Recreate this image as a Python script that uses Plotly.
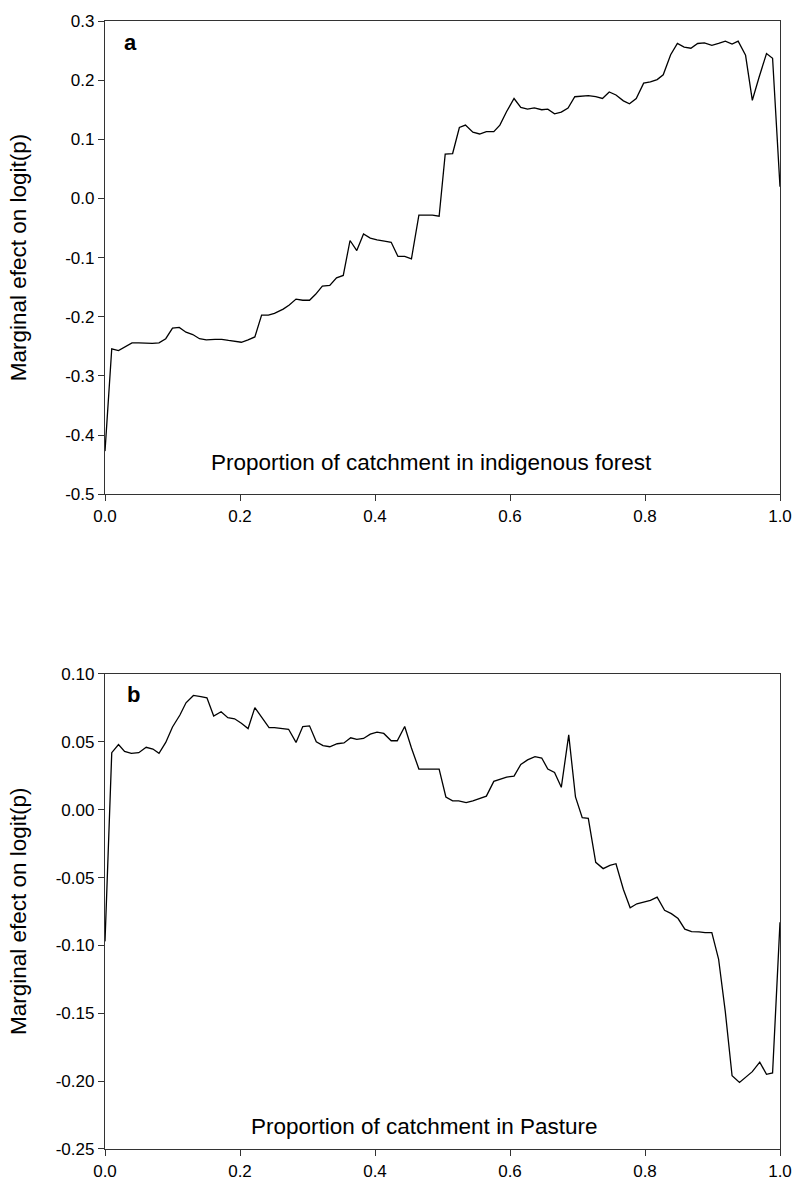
import plotly.graph_objects as go

# Panel a: marginal effect of indigenous forest proportion
forest_x = [0.000, 0.010, 0.020, 0.030, 0.040, 0.050, 0.060, 0.070, 0.080, 0.090,
            0.100, 0.110, 0.120, 0.130, 0.140, 0.150, 0.163, 0.173, 0.183, 0.193,
            0.202, 0.212, 0.222, 0.232, 0.242, 0.251, 0.264, 0.273, 0.283, 0.293,
            0.303, 0.312, 0.322, 0.333, 0.343, 0.353, 0.363, 0.373, 0.383, 0.393,
            0.403, 0.414, 0.424, 0.434, 0.444, 0.454, 0.465, 0.475, 0.485, 0.495,
            0.504, 0.515, 0.525, 0.534, 0.545, 0.555, 0.565, 0.576, 0.585, 0.595,
            0.606, 0.616, 0.626, 0.636, 0.647, 0.656, 0.666, 0.676, 0.686, 0.696,
            0.706, 0.716, 0.727, 0.737, 0.747, 0.757, 0.768, 0.777, 0.787, 0.798,
            0.808, 0.818, 0.827, 0.838, 0.848, 0.858, 0.868, 0.878, 0.888, 0.899,
            0.909, 0.919, 0.929, 0.938, 0.949, 0.959, 0.969, 0.980, 0.989, 1.000]
forest_y = [-0.427, -0.254, -0.257, -0.250, -0.244, -0.244, -0.245, -0.245, -0.244, -0.237,
            -0.219, -0.218, -0.226, -0.230, -0.237, -0.239, -0.238, -0.238, -0.240, -0.242,
            -0.243, -0.239, -0.234, -0.197, -0.197, -0.194, -0.187, -0.180, -0.170, -0.172,
            -0.172, -0.162, -0.148, -0.147, -0.134, -0.130, -0.071, -0.088, -0.060, -0.067,
            -0.070, -0.072, -0.074, -0.098, -0.098, -0.102, -0.028, -0.028, -0.028, -0.030,
            0.075, 0.076, 0.120, 0.124, 0.112, 0.109, 0.113, 0.113, 0.124, 0.147,
            0.169, 0.154, 0.151, 0.153, 0.150, 0.151, 0.143, 0.146, 0.153, 0.172,
            0.173, 0.174, 0.172, 0.169, 0.180, 0.175, 0.165, 0.160, 0.169, 0.195,
            0.197, 0.201, 0.209, 0.243, 0.262, 0.256, 0.254, 0.262, 0.263, 0.259,
            0.262, 0.266, 0.261, 0.266, 0.242, 0.166, 0.205, 0.245, 0.237, 0.020]

# Panel b: marginal effect of pasture proportion
pasture_x = [0.000, 0.010, 0.020, 0.029, 0.039, 0.050, 0.061, 0.071, 0.080, 0.090,
             0.100, 0.111, 0.120, 0.131, 0.142, 0.151, 0.161, 0.172, 0.182, 0.192,
             0.202, 0.212, 0.222, 0.232, 0.243, 0.251, 0.262, 0.272, 0.283, 0.293,
             0.303, 0.313, 0.323, 0.333, 0.344, 0.354, 0.364, 0.373, 0.383, 0.393,
             0.403, 0.413, 0.424, 0.433, 0.444, 0.454, 0.465, 0.475, 0.485, 0.495,
             0.505, 0.515, 0.524, 0.535, 0.545, 0.555, 0.565, 0.576, 0.586, 0.595,
             0.606, 0.616, 0.626, 0.637, 0.647, 0.656, 0.666, 0.676, 0.687, 0.697,
             0.707, 0.716, 0.727, 0.738, 0.748, 0.757, 0.768, 0.778, 0.788, 0.798,
             0.808, 0.818, 0.829, 0.839, 0.849, 0.859, 0.869, 0.880, 0.889, 0.899,
             0.909, 0.919, 0.929, 0.940, 0.949, 0.959, 0.970, 0.980, 0.989, 1.000]
pasture_y = [-0.097, 0.042, 0.048, 0.043, 0.0415, 0.042, 0.046, 0.0447, 0.0415, 0.0496,
             0.061, 0.0698, 0.0788, 0.0842, 0.0834, 0.0825, 0.069, 0.0722, 0.0678, 0.067,
             0.0637, 0.0598, 0.0752, 0.0678, 0.0605, 0.0605, 0.060, 0.0593, 0.0496, 0.0613,
             0.0618, 0.050, 0.0472, 0.0464, 0.0486, 0.0492, 0.053, 0.0518, 0.0525, 0.0557,
             0.0571, 0.0562, 0.0508, 0.0508, 0.0613, 0.0455, 0.030, 0.030, 0.0299, 0.0299,
             0.0094, 0.0065, 0.0065, 0.0053, 0.0065, 0.0082, 0.010, 0.0209, 0.0228, 0.024,
             0.0247, 0.0333, 0.0367, 0.0391, 0.0381, 0.030, 0.0275, 0.0165, 0.0551, 0.0094,
             -0.0059, -0.0064, -0.0388, -0.0434, -0.041, -0.0398, -0.0588, -0.0722, -0.0693, -0.068,
             -0.0668, -0.0644, -0.0741, -0.0766, -0.0802, -0.088, -0.0898, -0.090, -0.0905, -0.0905,
             -0.110, -0.149, -0.196, -0.201, -0.197, -0.193, -0.186, -0.195, -0.194, -0.083]

x_ticks = [0.0, 0.2, 0.4, 0.6, 0.8, 1.0]
x_ticktext = ["0.0", "0.2", "0.4", "0.6", "0.8", "1.0"]
forest_yticks = [0.3, 0.2, 0.1, 0.0, -0.1, -0.2, -0.3, -0.4, -0.5]
forest_yticktext = ["0.3", "0.2", "0.1", "0.0", "-0.1", "-0.2", "-0.3", "-0.4", "-0.5"]
pasture_yticks = [0.10, 0.05, 0.00, -0.05, -0.10, -0.15, -0.20, -0.25]
pasture_yticktext = ["0.10", "0.05", "0.00", "-0.05", "-0.10", "-0.15", "-0.20", "-0.25"]

FONT = "Liberation Sans, Arial, sans-serif"
AXIS_COLOR = "#333333"

fig = go.Figure()
fig.add_trace(go.Scatter(x=forest_x, y=forest_y, mode="lines",
                         line=dict(color="black", width=1.3),
                         xaxis="x", yaxis="y", showlegend=False))
fig.add_trace(go.Scatter(x=pasture_x, y=pasture_y, mode="lines",
                         line=dict(color="black", width=1.3),
                         xaxis="x2", yaxis="y2", showlegend=False))

axis_common = dict(showline=True, mirror=True, linecolor=AXIS_COLOR, linewidth=1.3,
                   ticks="outside", ticklen=6, tickwidth=1.2, tickcolor=AXIS_COLOR,
                   showgrid=False, zeroline=False,
                   tickfont=dict(family=FONT, size=17, color="black"))

fig.update_layout(
    width=804, height=1193,
    margin=dict(l=105, r=16, t=15, b=38),
    paper_bgcolor="white", plot_bgcolor="white",
    xaxis=dict(domain=[0, 1], range=[0, 1], anchor="y",
               tickvals=x_ticks, ticktext=x_ticktext, **axis_common),
    yaxis=dict(domain=[0.5804, 1], range=[-0.5, 0.3], anchor="x",
               tickvals=forest_yticks, ticktext=forest_yticktext, **axis_common),
    xaxis2=dict(domain=[0, 1], range=[0, 1], anchor="y2",
                tickvals=x_ticks, ticktext=x_ticktext, **axis_common),
    yaxis2=dict(domain=[0, 0.4211], range=[-0.25, 0.10], anchor="x2",
                tickvals=pasture_yticks, ticktext=pasture_yticktext, **axis_common),
)

title_font = dict(family=FONT, size=22.5, color="black")
panel_font = dict(family=FONT, size=22, color="black")

annotations = [
    # panel letters
    dict(text="<b>a</b>", xref="x domain", yref="y domain", x=0.038, y=0.955,
         xanchor="center", yanchor="middle", showarrow=False, font=panel_font),
    dict(text="<b>b</b>", xref="x2 domain", yref="y2 domain", x=0.042, y=0.957,
         xanchor="center", yanchor="middle", showarrow=False, font=panel_font),
    # x-axis titles drawn inside the plotting area
    dict(text="Proportion of catchment in indigenous forest", xref="x domain", yref="y domain",
         x=0.484, y=0.068, xanchor="center", yanchor="middle", showarrow=False, font=title_font),
    dict(text="Proportion of catchment in Pasture", xref="x2 domain", yref="y2 domain",
         x=0.472, y=0.048, xanchor="center", yanchor="middle", showarrow=False, font=title_font),
    # y-axis titles
    dict(text="Marginal efect on logit(p)", xref="paper", yref="y domain",
         x=-0.128, y=0.5, xanchor="center", yanchor="middle", textangle=-90,
         showarrow=False, font=title_font),
    dict(text="Marginal efect on logit(p)", xref="paper", yref="y2 domain",
         x=-0.128, y=0.5, xanchor="center", yanchor="middle", textangle=-90,
         showarrow=False, font=title_font),
]
fig.update_layout(annotations=annotations)

fig.write_html("out.html")
